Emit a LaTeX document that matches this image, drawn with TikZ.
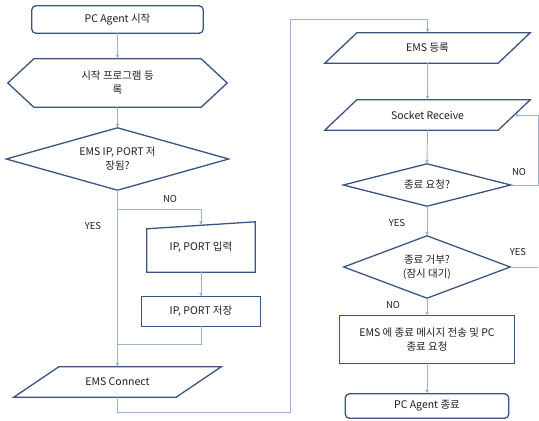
\documentclass[tikz,border=0pt]{standalone}
\usepackage{fontspec}
\setmainfont{Noto Sans CJK KR}
\usetikzlibrary{arrows.meta}
\definecolor{navy}{HTML}{3A5482}
\definecolor{lineblue}{HTML}{9DB3D4}
\definecolor{txt}{HTML}{1E1E1E}
\tikzset{
  box/.style={inner sep=0pt, align=center, font=\fontsize{10.5}{14}\selectfont, text=txt},
  outline/.style={draw=navy, line width=1.3pt, line join=miter},
  conn/.style={draw=lineblue, line width=0.9pt},
  arr/.style={conn, -{Latex[length=4pt,width=4pt]}},
  lbl/.style={inner sep=0pt, font=\fontsize{9.5}{11}\selectfont, text=txt}
}
\begin{document}
\begin{tikzpicture}[x=1pt,y=-1pt]
\useasboundingbox (0,0) rectangle (539,421);
% nodes
\node[box, minimum width=171pt, minimum height=27pt] (start) at (117.5,19.5) {PC Agent 시작};
\node[box, minimum width=219pt, minimum height=48pt] (prep) at (117.5,83) {시작 프로그램 등\\록};
\node[box, minimum width=222pt, minimum height=62pt] (dec1) at (117.5,159) {EMS IP, PORT 저\\장됨?};
\node[box, minimum width=108pt, minimum height=50pt] (mi) at (201,247) {IP, PORT 입력};
\node[box, minimum width=118pt, minimum height=29pt] (save) at (201,311.5) {IP, PORT 저장};
\node[box, minimum width=207pt, minimum height=30pt] (conn) at (117.5,382) {EMS Connect};
\node[box, minimum width=205pt, minimum height=30pt] (reg) at (427.5,48) {EMS 등록};
\node[box, minimum width=205pt, minimum height=30pt] (sock) at (427.5,115) {Socket Receive};
\node[box, minimum width=167pt, minimum height=42pt] (dec2) at (427,185) {종료 요청?};
\node[box, minimum width=166pt, minimum height=62pt] (dec3) at (427,267) {종료 거부?\\(잠시 대기)};
\node[box, minimum width=175pt, minimum height=47pt] (proc) at (427,339.5) {EMS 에 종료 메시지 전송 및 PC\\종료 요청};
\node[box, minimum width=163pt, minimum height=24pt] (end) at (427,406) {PC Agent 종료};
% outlines
\draw[outline, rounded corners=4pt] (start.north west) rectangle (start.south east);
\draw[outline] (prep.west) -- ([xshift=26pt]prep.north west) -- ([xshift=-26pt]prep.north east) -- (prep.east) -- ([xshift=-26pt]prep.south east) -- ([xshift=26pt]prep.south west) -- cycle;
\draw[outline] (dec1.west) -- (dec1.north) -- (dec1.east) -- (dec1.south) -- cycle;
\draw[outline] (mi.south west) -- ([yshift=-7pt]mi.north west) -- (mi.north east) -- (mi.south east) -- cycle;
\draw[outline] (save.north west) rectangle (save.south east);
\draw[outline] (conn.south west) -- ([xshift=45pt]conn.north west) -- (conn.north east) -- ([xshift=-45pt]conn.south east) -- cycle;
\draw[outline] (reg.south west) -- ([xshift=32pt]reg.north west) -- (reg.north east) -- ([xshift=-32pt]reg.south east) -- cycle;
\draw[outline] (sock.south west) -- ([xshift=32pt]sock.north west) -- (sock.north east) -- ([xshift=-32pt]sock.south east) -- cycle;
\draw[outline] (dec2.west) -- (dec2.north) -- (dec2.east) -- (dec2.south) -- cycle;
\draw[outline] (dec3.west) -- (dec3.north) -- (dec3.east) -- (dec3.south) -- cycle;
\draw[outline] (proc.north west) rectangle (proc.south east);
\draw[outline, rounded corners=4pt] (end.north west) rectangle (end.south east);
% helper coordinates
\coordinate (br) at (117.5,209);
\coordinate (jn) at (117.5,344);
\coordinate (lb) at (117.5,412);
\coordinate (lt) at (290,19);
\coordinate (rr) at (538,115);
% connectors
\draw[arr] (start.south) -- (prep.north);
\draw[arr] (prep.south) -- (dec1.north);
\draw[arr] (dec1.south) -- (conn.north);
\draw[arr] (br) -| ([yshift=-3.5pt]mi.north);
\draw[arr] (mi.south) -- (save.north);
\draw[conn] (save.south) |- (jn);
\draw[arr] (conn.south) -- (lb) -| (lt) -| (reg.north);
\draw[arr] (reg.south) -- (sock.north);
\draw[arr] (sock.south) -- (dec2.north);
\draw[arr] (dec2.east) -| (rr) -- ([xshift=-16pt]sock.east);
\draw[arr] (dec2.south) -- (dec3.north);
\draw[conn] (dec3.east) -- (dec3.east -| rr);
\draw[arr] (dec3.south) -- (proc.north);
\draw[arr] (proc.south) -- (end.north);
% labels
\node[lbl] (l1) at (170,199) {NO};
\node[lbl] (l2) at (93,226) {YES};
\node[lbl] (l3) at (519,172) {NO};
\node[lbl] (l4) at (397,223) {YES};
\node[lbl] (l5) at (518,252) {YES};
\node[lbl] (l6) at (393,305) {NO};
\end{tikzpicture}
\end{document}
